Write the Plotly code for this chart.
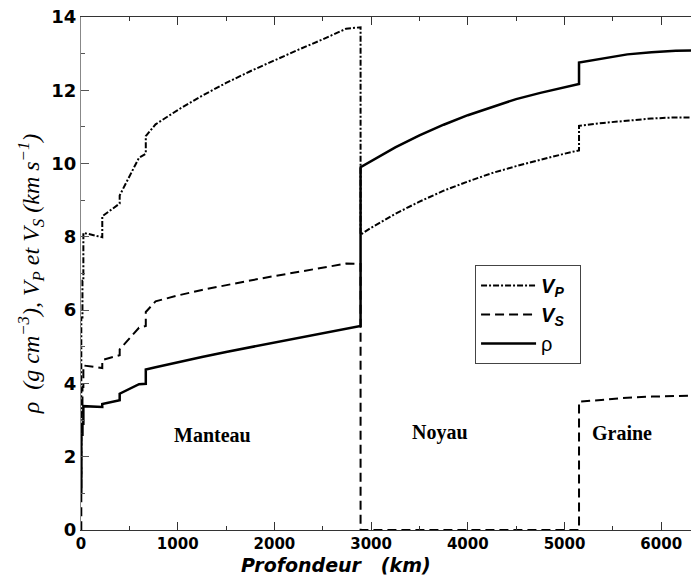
import plotly.graph_objects as go

# Depth (km) and PREM-like profiles
depth = [0, 3, 3, 15, 15, 24.4, 24.4, 80, 220, 220, 400, 400, 600, 670, 670,
         771, 1000, 1250, 1500, 1750, 2000, 2250, 2500, 2741, 2891, 2891,
         3000, 3250, 3500, 3750, 4000, 4250, 4500, 4750, 5000, 5150,
         5150, 5400, 5650, 5900, 6150, 6371]

rho = [1.02, 1.02, 2.60, 2.60, 2.90, 2.90, 3.38, 3.37, 3.36, 3.44, 3.54, 3.72, 3.98, 3.99, 4.38,
       4.44, 4.58, 4.72, 4.86, 4.99, 5.12, 5.25, 5.37, 5.49, 5.57, 9.90,
       10.07, 10.44, 10.77, 11.06, 11.32, 11.55, 11.76, 11.93, 12.09, 12.17,
       12.76, 12.88, 12.98, 13.04, 13.08, 13.09]

vp = [1.45, 1.45, 5.80, 5.80, 6.80, 6.80, 8.11, 8.08, 7.99, 8.56, 8.91, 9.13, 10.16, 10.27, 10.75,
      11.07, 11.46, 11.85, 12.20, 12.52, 12.82, 13.11, 13.39, 13.68, 13.72, 8.06,
      8.25, 8.63, 8.96, 9.26, 9.51, 9.74, 9.93, 10.11, 10.27, 10.36,
      11.03, 11.11, 11.18, 11.23, 11.26, 11.26]

vs = [0, 0, 3.20, 3.20, 3.90, 3.90, 4.49, 4.47, 4.42, 4.64, 4.77, 4.93, 5.52, 5.57, 5.95,
      6.24, 6.40, 6.55, 6.69, 6.81, 6.93, 7.05, 7.16, 7.27, 7.26, 0,
      0, 0, 0, 0, 0, 0, 0, 0, 0, 0,
      3.50, 3.56, 3.61, 3.64, 3.66, 3.67]

regions = ["Manteau", "Noyau", "Graine"]
region_x = [1355, 3713, 5595]
region_y = [2.6, 2.65, 2.65]

NB = "\u00a0"

fig = go.Figure()
fig.add_trace(go.Scatter(x=depth, y=vp, mode="lines", name="<b><i>V<sub>P</sub></i></b>" + NB * 2,
                         line=dict(color="black", width=2, dash="6px,2px,2px,2px")))
fig.add_trace(go.Scatter(x=depth, y=vs, mode="lines", name="<b><i>V<sub>S</sub></i></b>" + NB * 2,
                         line=dict(color="black", width=2, dash="9px,5px")))
fig.add_trace(go.Scatter(x=depth, y=rho, mode="lines", name="ρ" + NB * 2,
                         line=dict(color="black", width=2.5)))

for t, xx, yy in zip(regions, region_x, region_y):
    fig.add_annotation(x=xx, y=yy, text="<b>" + t + "</b>", showarrow=False,
                       font=dict(family="Liberation Serif", size=20, color="black"))

fig.add_annotation(xref="paper", yref="paper", x=0.418, y=-0.068, yanchor="middle",
                   text="<b><i>Profondeur" + NB * 3 + "(km)</i></b>", showarrow=False,
                   borderpad=0,
                   font=dict(family="DejaVu Sans", size=19, color="black"))

ytitle = ("<i>ρ" + NB * 2 + "(g" + NB + "cm<sup>−3</sup>)," + NB + "V<sub>P</sub>" + NB + "et" + NB +
          "V<sub>S</sub>" + NB + "(km" + NB + "s<sup>−1</sup>)</i>")

fig.update_layout(
    width=691, height=577,
    margin=dict(l=81, r=0, t=17, b=47),
    plot_bgcolor="white", paper_bgcolor="white",
    showlegend=True,
    legend=dict(x=0.646, y=0.5166, xanchor="left", yanchor="top",
                bordercolor="#444", borderwidth=1, bgcolor="white",
                font=dict(family="Liberation Sans", size=20, color="black"),
                tracegroupgap=0, itemwidth=55),
    xaxis=dict(range=[0, 6308], tickvals=[0, 1000, 2000, 3000, 4000, 5000, 6000],
               ticks="inside", ticklen=8, tickcolor="#333", showline=True, linecolor="#333",
               linewidth=1, mirror="ticks", showgrid=False, zeroline=False,
               minor=dict(dtick=500, ticks="inside", ticklen=4, tickcolor="#333"),
               tickfont=dict(family="DejaVu Sans", size=15, color="black", weight="bold")),
    yaxis=dict(range=[0, 14], dtick=2, ticks="inside", ticklen=8, tickcolor="#555",
               showline=True, linecolor="#888", linewidth=1, showgrid=False, zeroline=False,
               minor=dict(dtick=1, ticks="inside", ticklen=4, tickcolor="#555"),
               tickfont=dict(family="DejaVu Sans", size=18, color="black", weight="bold"),
               title=dict(text=ytitle,
                          font=dict(family="Liberation Serif", size=24, color="black"),
                          standoff=4)),
)

fig.write_html("out.html")
